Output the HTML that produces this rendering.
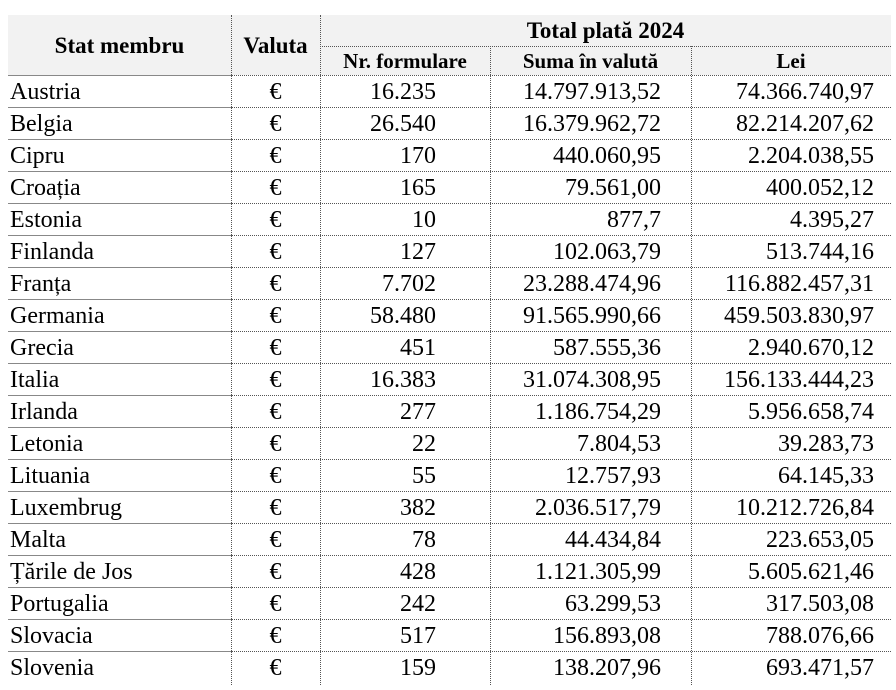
<!DOCTYPE html>
<html><head><meta charset="utf-8"><style>
body{margin:0;background:#fff;width:896px;height:690px;overflow:hidden;font-family:"Liberation Serif",serif;color:#000}
.hd{position:absolute;background:#f2f2f2}
.t{position:absolute;font-size:24px;line-height:32px;white-space:nowrap}
.b{font-weight:bold;font-size:23px}
.vl{position:absolute;border-left:1px dotted #555}
.hs{position:absolute;height:0;border-top:1px solid #888}
.hdot{position:absolute;height:0;border-top:1px dotted #555}
</style></head><body>
<div class="hd" style="left:8px;top:15px;width:883px;height:60px"></div>
<div class="vl" style="left:231px;top:15px;height:670px"></div>
<div class="vl" style="left:320px;top:15px;height:670px"></div>
<div class="vl" style="left:490px;top:46px;height:639px"></div>
<div class="vl" style="left:691px;top:46px;height:639px"></div>
<div class="hdot" style="left:320px;top:46px;width:571px"></div>
<div class="t b" style="left:8px;width:223px;top:30px;text-align:center">Stat membru</div>
<div class="t b" style="left:231px;width:89px;top:30px;text-align:center">Valuta</div>
<div class="t b" style="left:320px;width:571px;top:15px;text-align:center">Total plată 2024</div>
<div class="t b" style="left:320px;width:170px;top:45px;text-align:center;font-size:21px">Nr. formulare</div>
<div class="t b" style="left:490px;width:201px;top:45px;text-align:center;font-size:21px">Suma în valută</div>
<div class="t b" style="left:691px;width:200px;top:45px;text-align:center;font-size:21px">Lei</div>
<div id="rows"></div>
<script>
var d=[["Austria","16.235","14.797.913,52","74.366.740,97"],["Belgia","26.540","16.379.962,72","82.214.207,62"],["Cipru","170","440.060,95","2.204.038,55"],["Croația","165","79.561,00","400.052,12"],["Estonia","10","877,7","4.395,27"],["Finlanda","127","102.063,79","513.744,16"],["Franța","7.702","23.288.474,96","116.882.457,31"],["Germania","58.480","91.565.990,66","459.503.830,97"],["Grecia","451","587.555,36","2.940.670,12"],["Italia","16.383","31.074.308,95","156.133.444,23"],["Irlanda","277","1.186.754,29","5.956.658,74"],["Letonia","22","7.804,53","39.283,73"],["Lituania","55","12.757,93","64.145,33"],["Luxembrug","382","2.036.517,79","10.212.726,84"],["Malta","78","44.434,84","223.653,05"],["Țările de Jos","428","1.121.305,99","5.605.621,46"],["Portugalia","242","63.299,53","317.503,08"],["Slovacia","517","156.893,08","788.076,66"],["Slovenia","159","138.207,96","693.471,57"]];
var h="";
for(var i=0;i<d.length;i++){var y=75+i*32,r=d[i];
h+='<div class="hs" style="left:8px;top:'+y+'px;width:223px"></div>';
h+='<div class="hdot" style="left:231px;top:'+y+'px;width:660px"></div>';
h+='<div class="t" style="left:10px;top:'+(y+1)+'px">'+r[0]+'</div>';
h+='<div class="t" style="left:231px;width:89px;text-align:center;top:'+(y+1)+'px">€</div>';
h+='<div class="t" style="left:320px;width:116px;text-align:right;top:'+(y+1)+'px">'+r[1]+'</div>';
h+='<div class="t" style="left:490px;width:171px;text-align:right;top:'+(y+1)+'px">'+r[2]+'</div>';
h+='<div class="t" style="left:691px;width:183px;text-align:right;top:'+(y+1)+'px">'+r[3]+'</div>';}
document.getElementById("rows").innerHTML=h;
</script>
</body></html>
